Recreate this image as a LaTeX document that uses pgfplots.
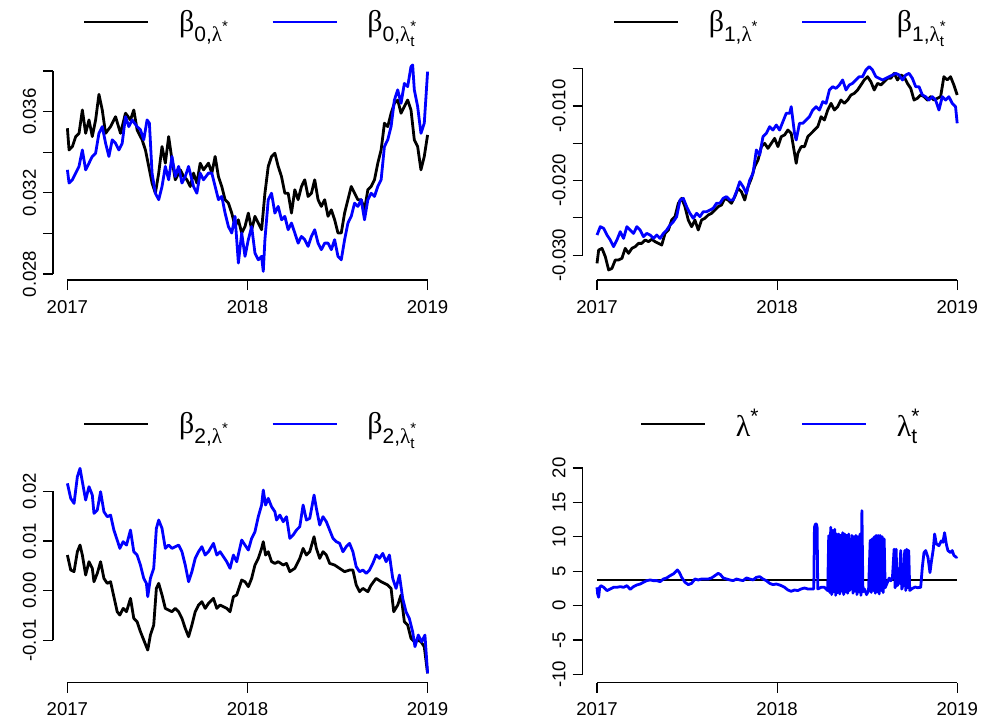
\documentclass[border=0pt]{standalone}
\usepackage{amsmath}
\usepackage{fontspec}
\setmainfont{Liberation Sans}
\newfontfamily\grk{Liberation Serif}
\usepackage{pgfplots}
\pgfplotsset{compat=1.18}
\newcommand{\bz}[1]{$\text{\grk β}_{\text{#1,}\text{\grk λ}^{\text{*}}}$}
\newcommand{\bt}[1]{$\text{\grk β}_{\text{#1,}\text{\grk λ}^{\text{*}}_{\text{t}}}$}
\pgfplotsset{
 rpanel/.style={
  scale only axis, width=194.5pt, height=111.5pt,
  anchor=south west, clip=false,
  axis line style={draw=none},
  xtick pos=bottom, ytick pos=left, tick align=outside,
  major tick length=5pt, minor tick num=0,
  tick style={black, line width=0.6pt},
  xmin=-43.4, xmax=1128.4,
  xtick={0,542.5,1085}, xticklabels={2017,2018,2019},
  tick label style={font=\fontsize{9.3}{11}\selectfont},
  xticklabel style={yshift=-1.5pt},
  yticklabel style={rotate=90, anchor=south},
  scaled y ticks=false,
  legend style={draw=none, fill=none, at={(0.514,1.157)}, anchor=center,
    legend columns=2, font=\fontsize{15}{17}\selectfont,
    /tikz/every odd column/.style={column sep=13pt},
    /tikz/every even column/.style={column sep=19pt}},
  legend image code/.code={\draw[#1, line width=0.7pt] (0pt,0pt) -- (32pt,0pt);},
 },
 bl/.style={black, line width=1.4pt, line join=round},
 bu/.style={blue, line width=1.4pt, line join=round},
}
\begin{document}
\begin{tikzpicture}
\useasboundingbox (0,0) rectangle (490.5pt,362.5pt);
% ---------------- panel 1
\begin{axis}[rpanel, at={(26.5pt,222.5pt)}, ymin=0.027704, ymax=0.03869,
  ytick={0.028,0.030,0.032,0.034,0.036,0.038}, yticklabels={0.028,,0.032,,0.036,}]
\addplot[bl] coordinates {(0,0.03518)(5,0.03411)(15,0.03428)(25,0.03477)(35,0.03493)(45,0.03608)(55,0.03493)(65,0.03559)(75,0.03477)(85,0.03559)(95,0.03685)(105,0.03608)(115,0.03493)(130,0.03526)(145,0.03575)(160,0.03493)(175,0.03592)(190,0.03559)(200,0.03608)(210,0.03510)(225,0.03461)(235,0.03411)(245,0.03330)(255,0.03248)(265,0.03198)(275,0.03297)(285,0.03428)(295,0.03346)(305,0.03477)(315,0.03362)(325,0.03264)(340,0.03313)(350,0.03280)(360,0.03264)(370,0.03231)(380,0.03297)(390,0.03248)(400,0.03346)(410,0.03313)(425,0.03346)(435,0.03297)(445,0.03379)(455,0.03280)(465,0.03231)(475,0.03166)(485,0.03149)(495,0.03100)(505,0.03034)(515,0.03067)(525,0.03002)(535,0.03034)(545,0.03100)(555,0.03018)(565,0.03084)(575,0.03051)(585,0.03018)(595,0.03198)(605,0.03330)(615,0.03379)(625,0.03395)(635,0.03330)(645,0.03280)(655,0.03198)(665,0.03198)(675,0.03100)(685,0.03215)(695,0.03166)(705,0.03231)(715,0.03264)(725,0.03182)(735,0.03198)(745,0.03264)(755,0.03166)(765,0.03133)(775,0.03166)(785,0.03084)(795,0.03116)(805,0.03067)(815,0.03002)(825,0.03002)(835,0.03100)(845,0.03166)(855,0.03231)(865,0.03198)(875,0.03166)(885,0.03166)(895,0.03116)(905,0.03215)(915,0.03231)(925,0.03264)(935,0.03346)(945,0.03411)(955,0.03543)(965,0.03526)(975,0.03592)(985,0.03641)(995,0.03657)(1005,0.03592)(1015,0.03625)(1025,0.03657)(1035,0.03608)(1045,0.03461)(1055,0.03428)(1065,0.03313)(1075,0.03379)(1085,0.03485)};
\addlegendentry{\bz{0}}
\addplot[bu] coordinates {(0,0.03313)(5,0.03248)(15,0.03264)(25,0.03297)(35,0.03330)(45,0.03411)(55,0.03313)(65,0.03346)(75,0.03379)(85,0.03395)(95,0.03493)(105,0.03526)(115,0.03444)(125,0.03379)(135,0.03461)(145,0.03444)(155,0.03411)(165,0.03444)(175,0.03575)(185,0.03526)(195,0.03559)(210,0.03526)(220,0.03510)(230,0.03461)(240,0.03559)(247,0.03543)(255,0.03297)(265,0.03198)(275,0.03166)(285,0.03231)(295,0.03330)(305,0.03264)(315,0.03379)(325,0.03280)(335,0.03330)(345,0.03248)(355,0.03280)(365,0.03330)(380,0.03231)(390,0.03198)(400,0.03297)(410,0.03264)(425,0.03297)(435,0.03297)(445,0.03231)(455,0.03166)(465,0.03182)(475,0.03100)(485,0.03034)(495,0.03002)(505,0.03084)(515,0.02854)(525,0.03002)(535,0.02887)(545,0.02969)(555,0.03034)(565,0.02903)(575,0.02870)(585,0.02887)(590,0.02813)(595,0.02969)(605,0.03166)(615,0.03198)(625,0.03100)(635,0.03133)(645,0.03067)(655,0.03084)(665,0.03018)(675,0.03051)(685,0.03002)(695,0.02952)(705,0.02985)(715,0.02969)(725,0.02936)(735,0.02985)(745,0.03018)(755,0.02952)(765,0.02920)(775,0.02952)(785,0.02952)(795,0.02920)(805,0.02969)(815,0.02887)(825,0.02870)(835,0.02969)(845,0.03051)(855,0.03084)(865,0.03149)(875,0.03133)(885,0.03166)(895,0.03067)(905,0.03166)(915,0.03198)(925,0.03182)(935,0.03231)(945,0.03264)(955,0.03428)(965,0.03461)(975,0.03526)(985,0.03657)(995,0.03707)(1005,0.03641)(1015,0.03739)(1025,0.03723)(1035,0.03821)(1040,0.03830)(1045,0.03707)(1055,0.03625)(1065,0.03493)(1075,0.03543)(1085,0.03797)};
\addlegendentry{\bt{0}}
\draw[line width=0.6pt] (axis cs:0,0.027704) -- (axis cs:1085,0.027704);
\draw[line width=0.6pt] (axis cs:-43.4,0.028) -- (axis cs:-43.4,0.038);
\end{axis}
% ---------------- panel 2
\begin{axis}[rpanel, at={(291.3pt,222.5pt)}, ymin=-0.033333, ymax=-0.003429,
  ytick={-0.030,-0.025,-0.020,-0.015,-0.010,-0.005}, yticklabels={-0.030,,-0.020,,-0.010,}]
\addplot[bl] coordinates {(0,-0.03110)(5,-0.02931)(15,-0.02909)(25,-0.03020)(35,-0.03199)(45,-0.03177)(55,-0.03065)(65,-0.03065)(75,-0.03043)(85,-0.02909)(95,-0.02976)(105,-0.02909)(115,-0.02886)(125,-0.02842)(135,-0.02842)(145,-0.02797)(155,-0.02819)(165,-0.02788)(175,-0.02819)(185,-0.02842)(195,-0.02864)(205,-0.02708)(215,-0.02663)(225,-0.02529)(235,-0.02484)(245,-0.02305)(255,-0.02238)(265,-0.02350)(275,-0.02529)(285,-0.02618)(295,-0.02529)(305,-0.02663)(315,-0.02529)(325,-0.02506)(335,-0.02462)(345,-0.02439)(355,-0.02395)(365,-0.02350)(375,-0.02328)(385,-0.02238)(395,-0.02261)(405,-0.02305)(415,-0.02216)(425,-0.02104)(435,-0.02149)(445,-0.02261)(455,-0.02082)(465,-0.01970)(475,-0.01814)(485,-0.01724)(495,-0.01545)(505,-0.01501)(515,-0.01568)(525,-0.01501)(535,-0.01434)(545,-0.01545)(555,-0.01411)(565,-0.01389)(575,-0.01322)(585,-0.01367)(595,-0.01635)(600,-0.01769)(605,-0.01635)(615,-0.01545)(625,-0.01545)(635,-0.01411)(645,-0.01367)(655,-0.01322)(665,-0.01277)(675,-0.01143)(685,-0.01188)(695,-0.01054)(705,-0.00964)(715,-0.01054)(725,-0.01009)(735,-0.00920)(745,-0.00964)(755,-0.00920)(765,-0.00852)(775,-0.00830)(785,-0.00785)(795,-0.00718)(805,-0.00651)(815,-0.00607)(825,-0.00674)(835,-0.00785)(845,-0.00696)(855,-0.00718)(865,-0.00674)(875,-0.00629)(885,-0.00629)(895,-0.00562)(905,-0.00651)(915,-0.00584)(925,-0.00607)(935,-0.00696)(945,-0.00763)(955,-0.00920)(965,-0.00897)(975,-0.00852)(985,-0.00875)(995,-0.00920)(1005,-0.00875)(1015,-0.00920)(1025,-0.00897)(1035,-0.00875)(1045,-0.00607)(1055,-0.00651)(1065,-0.00607)(1075,-0.00718)(1085,-0.00852)};
\addlegendentry{\bz{1}}
\addplot[bu] coordinates {(0,-0.02730)(10,-0.02618)(20,-0.02640)(30,-0.02730)(40,-0.02797)(50,-0.02886)(60,-0.02797)(70,-0.02685)(80,-0.02775)(90,-0.02618)(100,-0.02663)(110,-0.02708)(120,-0.02618)(130,-0.02663)(140,-0.02752)(150,-0.02708)(160,-0.02730)(170,-0.02775)(180,-0.02730)(190,-0.02775)(200,-0.02708)(210,-0.02663)(220,-0.02596)(230,-0.02551)(240,-0.02484)(250,-0.02261)(260,-0.02238)(270,-0.02350)(280,-0.02439)(290,-0.02506)(300,-0.02439)(310,-0.02484)(320,-0.02417)(330,-0.02417)(340,-0.02395)(350,-0.02372)(360,-0.02305)(370,-0.02305)(380,-0.02238)(390,-0.02216)(400,-0.02261)(410,-0.02261)(420,-0.02149)(430,-0.02015)(440,-0.02082)(450,-0.02171)(460,-0.01992)(470,-0.01903)(480,-0.01590)(490,-0.01657)(500,-0.01411)(510,-0.01367)(520,-0.01277)(530,-0.01322)(540,-0.01255)(550,-0.01322)(560,-0.01210)(570,-0.01098)(580,-0.01098)(585,-0.01009)(590,-0.01188)(595,-0.01367)(600,-0.01456)(610,-0.01232)(620,-0.01232)(630,-0.01188)(640,-0.01143)(650,-0.01054)(660,-0.01009)(670,-0.01054)(680,-0.00942)(690,-0.00964)(700,-0.00785)(710,-0.00741)(720,-0.00763)(730,-0.00718)(740,-0.00651)(750,-0.00785)(760,-0.00718)(770,-0.00696)(780,-0.00651)(790,-0.00607)(800,-0.00607)(810,-0.00517)(820,-0.00473)(830,-0.00517)(840,-0.00607)(850,-0.00629)(860,-0.00651)(870,-0.00629)(880,-0.00607)(890,-0.00584)(900,-0.00562)(910,-0.00584)(920,-0.00651)(930,-0.00584)(940,-0.00562)(950,-0.00629)(960,-0.00741)(970,-0.00741)(980,-0.00852)(990,-0.00875)(1000,-0.00920)(1010,-0.00875)(1020,-0.00920)(1030,-0.01054)(1040,-0.00875)(1050,-0.00920)(1060,-0.00875)(1070,-0.00964)(1080,-0.01009)(1085,-0.01232)};
\addlegendentry{\bt{1}}
\draw[line width=0.6pt] (axis cs:0,-0.033333) -- (axis cs:1085,-0.033333);
\draw[line width=0.6pt] (axis cs:-43.4,-0.030) -- (axis cs:-43.4,-0.005);
\end{axis}
% ---------------- panel 3
\begin{axis}[rpanel, at={(26.5pt,21.15pt)}, ymin=-0.018523, ymax=0.026376,
  ytick={-0.01,0,0.01,0.02}, yticklabels={-0.01,0.00,0.01,0.02},
  legend style={at={(0.514,1.160)}}]
\addplot[bl] coordinates {(0,0.00718)(10,0.00416)(20,0.00383)(30,0.00785)(38,0.00919)(45,0.00718)(55,0.00315)(65,0.00584)(75,0.00450)(80,0.00181)(90,0.00349)(100,0.00584)(110,0.00248)(120,0.00148)(130,0.00181)(140,-0.00121)(150,-0.00423)(158,-0.00490)(168,-0.00356)(178,-0.00423)(190,-0.00154)(200,-0.00557)(210,-0.00624)(220,-0.00825)(230,-0.00993)(242,-0.01195)(250,-0.00893)(260,-0.00691)(268,0.00047)(275,0.00148)(285,-0.00087)(295,-0.00356)(305,-0.00389)(315,-0.00423)(325,-0.00356)(335,-0.00423)(345,-0.00557)(355,-0.00758)(365,-0.00926)(375,-0.00691)(385,-0.00423)(395,-0.00289)(405,-0.00221)(415,-0.00356)(425,-0.00255)(440,-0.00154)(450,-0.00356)(460,-0.00289)(470,-0.00322)(480,-0.00356)(490,-0.00423)(500,-0.00121)(510,-0.00087)(525,0.00215)(535,0.00181)(545,0.00081)(555,0.00248)(565,0.00517)(575,0.00651)(585,0.00852)(590,0.00987)(597,0.00718)(605,0.00785)(615,0.00584)(625,0.00550)(635,0.00584)(650,0.00517)(660,0.00550)(670,0.00383)(685,0.00450)(700,0.00651)(710,0.00852)(720,0.00718)(730,0.00785)(743,0.01087)(750,0.00852)(760,0.00651)(770,0.00785)(780,0.00718)(790,0.00550)(805,0.00517)(820,0.00450)(835,0.00383)(850,0.00416)(860,0.00416)(870,0.00114)(880,-0.00020)(890,0.00047)(905,-0.00020)(915,0.00114)(930,0.00248)(945,0.00181)(955,0.00148)(965,0.00114)(975,0.00047)(983,-0.00423)(995,-0.00289)(1005,-0.00087)(1015,-0.00624)(1025,-0.00691)(1035,-0.00960)(1045,-0.01027)(1055,-0.00993)(1065,-0.01027)(1075,-0.01127)(1085,-0.01664)};
\addlegendentry{\bz{2}}
\addplot[bu] coordinates {(0,0.02161)(10,0.01859)(20,0.01758)(30,0.02295)(38,0.02463)(45,0.02195)(55,0.01825)(65,0.02094)(75,0.01926)(80,0.01557)(90,0.01624)(100,0.01993)(110,0.01591)(120,0.01490)(130,0.01523)(140,0.01221)(150,0.01020)(158,0.00852)(168,0.00987)(178,0.00919)(190,0.01221)(200,0.00785)(210,0.00718)(220,0.00517)(230,0.00248)(238,0.00148)(242,-0.00121)(250,0.00248)(260,0.00450)(268,0.01255)(275,0.01423)(285,0.01255)(295,0.00852)(305,0.00919)(315,0.00852)(325,0.00886)(335,0.00919)(345,0.00785)(355,0.00517)(365,0.00181)(375,0.00383)(385,0.00651)(395,0.00785)(405,0.00886)(415,0.00718)(425,0.00785)(440,0.00953)(450,0.00718)(460,0.00785)(470,0.00685)(480,0.00584)(490,0.00450)(500,0.00718)(510,0.00584)(525,0.01020)(535,0.00919)(545,0.00819)(555,0.01054)(565,0.01188)(575,0.01490)(585,0.01725)(590,0.02027)(597,0.01725)(605,0.01859)(615,0.01691)(625,0.01591)(630,0.01423)(640,0.01523)(650,0.01389)(660,0.01490)(670,0.01054)(680,0.01121)(690,0.01221)(700,0.01289)(710,0.01725)(720,0.01423)(730,0.01456)(743,0.01926)(750,0.01658)(760,0.01322)(770,0.01490)(780,0.01389)(790,0.01221)(800,0.01054)(810,0.00987)(820,0.00953)(830,0.00785)(840,0.00886)(850,0.00953)(860,0.00785)(870,0.00483)(880,0.00383)(890,0.00416)(900,0.00349)(910,0.00416)(920,0.00550)(930,0.00718)(940,0.00651)(950,0.00752)(960,0.00584)(970,0.00718)(980,0.00248)(990,0.00047)(1000,0.00315)(1010,-0.00154)(1020,-0.00423)(1030,-0.00557)(1040,-0.00825)(1047,-0.01127)(1057,-0.00893)(1067,-0.01027)(1077,-0.00893)(1085,-0.01664)};
\addlegendentry{\bt{2}}
\draw[line width=0.6pt] (axis cs:0,-0.018523) -- (axis cs:1085,-0.018523);
\draw[line width=0.6pt] (axis cs:-43.4,-0.01) -- (axis cs:-43.4,0.02);
\end{axis}
% ---------------- panel 4
\begin{axis}[rpanel, at={(291.3pt,21.15pt)}, ymin=-11.2, ymax=21.2,
  ytick={-10,-5,0,5,10,15,20}, yticklabels={-10,-5,0,5,10,15,20},
  legend style={at={(0.514,1.160)}}]
\addplot[bl] coordinates {(0,3.72)(1085,3.72)};
\addlegendentry{$\text{\grk λ}^{\text{*}}$}
\addplot[bu] coordinates {(0,2.66)(2,1.69)(5,1.21)(8,2.66)(12,2.90)(20,2.66)(30,2.18)(40,2.42)(50,2.66)(60,2.66)(70,2.76)(80,2.66)(90,2.90)(100,2.37)(110,2.76)(120,3.00)(130,3.14)(140,3.39)(150,3.63)(160,3.73)(170,3.63)(180,3.63)(190,3.48)(200,3.87)(210,4.02)(220,4.35)(230,4.60)(235,4.84)(242,5.18)(248,4.84)(255,4.11)(265,3.39)(275,3.05)(285,3.24)(295,3.87)(305,3.73)(315,3.87)(325,3.87)(335,3.87)(345,4.02)(355,4.35)(365,4.69)(372,4.50)(380,4.02)(390,3.87)(400,3.73)(410,3.63)(420,3.87)(430,3.73)(440,3.63)(450,4.02)(460,3.87)(470,3.73)(480,4.11)(490,4.21)(500,3.87)(510,3.63)(520,3.24)(530,3.05)(540,3.14)(550,3.00)(555,2.90)(565,2.66)(575,2.27)(585,2.08)(595,2.27)(605,2.18)(615,2.42)(625,2.56)(635,2.42)(645,2.42)(653,2.42)(655,11.37)(658,11.85)(661,11.85)(663,11.37)(665,2.42)(675,2.66)(685,2.66)(695,2.18)(698,10.16)(701,1.9)(704,11.37)(707,1.6)(710,10.9)(713,2.0)(716,11.1)(719,1.5)(722,10.4)(725,1.9)(728,10.4)(731,1.7)(734,10.2)(737,2.1)(740,10.6)(743,1.6)(746,10.4)(749,2.0)(752,10.2)(755,1.8)(758,10.4)(761,2.2)(764,2.7)(768,10.2)(771,1.8)(774,10.0)(777,2.1)(780,10.2)(783,1.6)(786,10.0)(789,2.0)(792,10.4)(795,1.5)(798,13.8)(801,2.0)(806,2.4)(812,1.6)(818,2.2)(823,9.5)(826,1.9)(829,9.7)(832,2.2)(835,10.0)(838,1.8)(841,10.2)(844,2.0)(847,10.2)(850,1.7)(853,10.2)(856,2.2)(859,10.0)(862,1.9)(865,9.7)(868,2.6)(875,3.4)(880,4.0)(885,3.6)(890,4.1)(895,8.2)(898,2.6)(901,8.2)(904,2.9)(910,3.3)(915,8.0)(918,2.4)(922,3.0)(927,8.0)(930,2.2)(933,8.2)(936,2.6)(939,8.0)(942,2.2)(950,2.5)(958,2.7)(966,2.6)(975,2.66)(980,5.6)(985,7.7)(990,8.0)(997,7.0)(1003,4.8)(1007,6.3)(1013,8.2)(1017,10.4)(1022,9.0)(1030,8.7)(1037,9.4)(1042,9.2)(1047,10.6)(1052,9.0)(1057,8.0)(1065,7.7)(1070,8.0)(1075,7.3)(1083,7.0)(1085,7.1)};
\addlegendentry{$\text{\grk λ}^{\text{*}}_{\text{t}}$}
\draw[line width=0.6pt] (axis cs:0,-11.2) -- (axis cs:1085,-11.2);
\draw[line width=0.6pt] (axis cs:-43.4,-10) -- (axis cs:-43.4,20);
\end{axis}
\end{tikzpicture}
\end{document}
